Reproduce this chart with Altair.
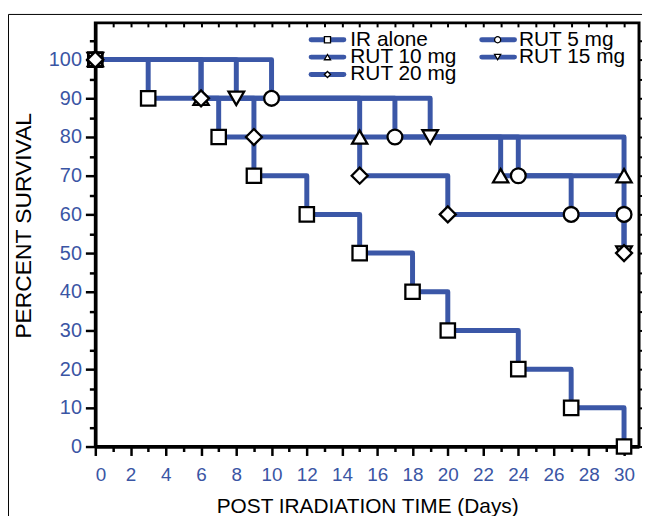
import altair as alt
import pandas as pd

# ---- data (Kaplan-Meier survival, %) ----
groups = ["IR alone", "RUT 5 mg", "RUT 10 mg", "RUT 15 mg", "RUT 20 mg"]
ir_days = [0, 3, 7, 9, 12, 15, 18, 20, 24, 27, 30]
ir_surv = [100, 90, 80, 70, 60, 50, 40, 30, 20, 10, 0]
rut5_days = [0, 10, 17, 24, 27, 30]
rut5_surv = [100, 90, 80, 70, 60, 60]
rut10_days = [0, 6, 15, 23, 30]
rut10_surv = [100, 90, 80, 70, 70]
rut15_days = [0, 8, 19, 30]
rut15_surv = [100, 90, 80, 50]
rut20_days = [0, 6, 9, 15, 20, 30]
rut20_surv = [100, 90, 80, 70, 60, 50]

x_ticks = list(range(0, 31))
y_ticks = list(range(0, 110, 5))

series = [(ir_days, ir_surv), (rut5_days, rut5_surv), (rut10_days, rut10_surv),
          (rut15_days, rut15_surv), (rut20_days, rut20_surv)]
rows = []
for g, (d, s) in zip(groups, series):
    for di, si in zip(d, s):
        rows.append({"day": di, "surv": si, "grp": g})
df = pd.DataFrame(rows)
leg_df = pd.DataFrame({"grp": groups, "idx": list(range(len(groups)))})

BLUE = "#3B57A7"
LBLUE = "#3A55A4"
FONT = "Liberation Sans"
W, H = 548, 427

xs = alt.Scale(domain=[0, 30.85], nice=False, zero=False)
ys = alt.Scale(domain=[0, 109.5], nice=False, zero=False)
SHAPES = alt.Scale(domain=groups,
                   range=["square", "circle", "triangle-up", "triangle-down", "diamond"])

top_axis = alt.Axis(orient="top", values=x_ticks, labels=False, domain=False,
                    ticks=True, tickSize=4, tickWidth=2, tickColor="black",
                    offset=-4, title=None, grid=False)
right_axis = alt.Axis(orient="right", values=y_ticks, labels=False, domain=False,
                      ticks=True, tickSize=3, tickWidth=2, tickColor="black",
                      title=None, grid=False)

bottom_axis = alt.Axis(
    orient="bottom", values=x_ticks, title="POST IRADIATION TIME (Days)",
    labelExpr="datum.value % 2 === 0 ? datum.label : ''",
    tickSize={"condition": {"test": "datum.value % 2 === 0", "value": 9}, "value": 5},
    tickWidth=2.5, tickColor="black", domainColor="black", domainWidth=3.5,
    labelColor=LBLUE, labelFont=FONT, labelFontSize=19, labelPadding=10,
    titleFont=FONT, titleFontSize=21, titleFontWeight="normal", titleColor="black",
    titlePadding=11, grid=False, zindex=0,
)
left_axis = alt.Axis(
    orient="left", values=y_ticks, title="PERCENT SURVIVAL",
    labelExpr="datum.value % 10 === 0 ? datum.label : ''",
    tickSize={"condition": {"test": "datum.value % 10 === 0", "value": 10}, "value": 6},
    tickWidth=2.5, tickColor="black", domainColor="black", domainWidth=3.5,
    labelColor=LBLUE, labelFont=FONT, labelFontSize=20, labelPadding=4,
    titleFont=FONT, titleFontSize=23, titleFontWeight="normal", titleColor="black",
    titlePadding=13, titleY=204, grid=False, zindex=0,
)

lines = alt.Chart(df).mark_line(
    interpolate="step-after", strokeWidth=5, strokeJoin="round", strokeCap="round",
    color=BLUE
).encode(
    x=alt.X("day:Q", scale=xs, axis=top_axis),
    y=alt.Y("surv:Q", scale=ys, axis=right_axis),
    detail="grp:N",
)

points = alt.Chart(df).mark_point(
    filled=True, fill="white", stroke="black", strokeWidth=2.3, opacity=1
).encode(
    x=alt.X("day:Q", scale=xs, axis=bottom_axis),
    y=alt.Y("surv:Q", scale=ys, axis=left_axis),
    shape=alt.Shape("grp:N", scale=SHAPES, legend=None),
    size=alt.Size("grp:N", scale=alt.Scale(domain=groups, range=[210, 260, 340, 340, 460]),
                  legend=None),
)

# ---- legend (two columns, row-major), placed in pixel space of the plot ----
px = alt.Scale(domain=[0, W], range=[0, W], nice=False, zero=False)
py = alt.Scale(domain=[0, H], range=[0, H], nice=False, zero=False)
leg = alt.Chart(leg_df).transform_calculate(
    col="datum.idx % 2", row="floor(datum.idx / 2)"
).transform_calculate(
    x1="217.5 + datum.col * 172", x2="250.5 + datum.col * 172",
    xm="234 + datum.col * 171.5", xt="257 + datum.col * 170",
    yc="17 + datum.row * 17.5",
)
leg_lines = leg.mark_rule(color=BLUE, strokeWidth=5, strokeCap="round").encode(
    x=alt.X("x1:Q", scale=px, axis=None), x2="x2:Q",
    y=alt.Y("yc:Q", scale=py, axis=None),
)
leg_marks = leg.mark_point(
    filled=True, fill="white", stroke="black", strokeWidth=1.3, opacity=1, size=38
).encode(
    x=alt.X("xm:Q", scale=px, axis=None),
    y=alt.Y("yc:Q", scale=py, axis=None),
    shape=alt.Shape("grp:N", scale=SHAPES, legend=None),
)
leg_text = leg.mark_text(
    align="left", baseline="middle", font=FONT, fontSize=21, color="black"
).encode(
    x=alt.X("xt:Q", scale=px, axis=None),
    y=alt.Y("yc:Q", scale=py, axis=None),
    text="grp:N",
)

# thin outer figure frame (left and top edges only are visible in the reference)
frame_left = alt.Chart(pd.DataFrame({"a": [0]})).mark_rule(
    stroke="black", strokeWidth=1
).encode(x=alt.value(-87.5), y=alt.value(-8.5), y2=alt.value(520))
frame_top = alt.Chart(pd.DataFrame({"a": [0]})).mark_rule(
    stroke="black", strokeWidth=1
).encode(x=alt.value(-87.5), x2=alt.value(551), y=alt.value(-8.5))

chart = alt.layer(
    lines, points, leg_lines, leg_marks, leg_text, frame_left, frame_top
).resolve_scale(
    x="independent", y="independent"
).resolve_axis(
    x="independent", y="independent"
).properties(
    width=W, height=H,
    autosize=alt.AutoSizeParams(type="none"),
    padding={"left": 88, "top": 13, "right": 3, "bottom": 68},
).configure_view(
    stroke="black", strokeWidth=3
)

chart.save("out.html", embed_options={"renderer": "svg", "actions": False})
